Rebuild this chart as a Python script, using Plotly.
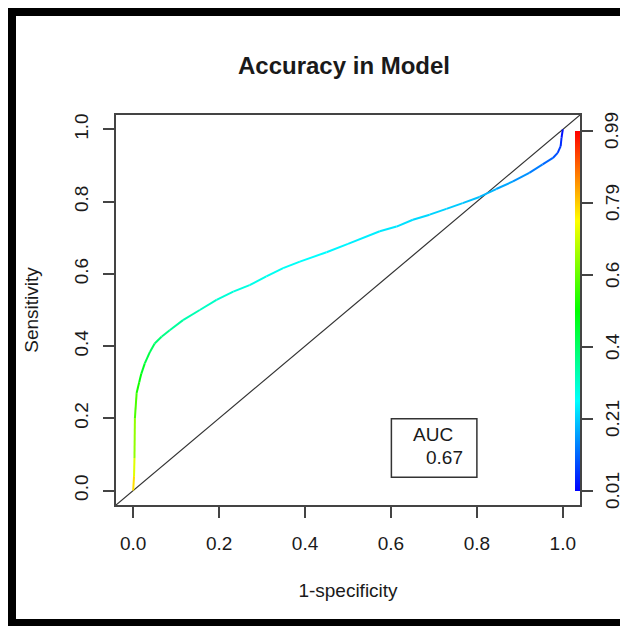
import plotly.graph_objects as go
from plotly.colors import sample_colorscale

# ---------------- data ----------------
fpr = [0.000, 0.002, 0.003, 0.004, 0.008, 0.014, 0.019, 0.027, 0.039, 0.050,
       0.066, 0.085, 0.116, 0.155, 0.194, 0.233, 0.271, 0.310, 0.349, 0.388,
       0.450, 0.500, 0.574, 0.613, 0.651, 0.690, 0.729, 0.767, 0.806, 0.845,
       0.884, 0.922, 0.953, 0.977, 0.988, 0.995, 0.997, 1.000]
tpr = [0.000, 0.040, 0.090, 0.200, 0.270, 0.300, 0.324, 0.352, 0.384, 0.407,
       0.426, 0.444, 0.472, 0.500, 0.528, 0.551, 0.569, 0.593, 0.616, 0.634,
       0.660, 0.683, 0.718, 0.731, 0.750, 0.764, 0.780, 0.796, 0.813, 0.835,
       0.856, 0.880, 0.903, 0.921, 0.935, 0.954, 0.977, 1.000]
cutoff = [0.80, 0.75, 0.68, 0.60, 0.54, 0.50, 0.48, 0.45, 0.42, 0.40,
          0.38, 0.36, 0.34, 0.32, 0.30, 0.29, 0.28, 0.27, 0.265, 0.26,
          0.25, 0.245, 0.235, 0.23, 0.22, 0.215, 0.21, 0.20, 0.19, 0.18,
          0.16, 0.14, 0.12, 0.10, 0.08, 0.06, 0.04, 0.01]

x_tickvals = [0.0, 0.2, 0.4, 0.6, 0.8, 1.0]
x_ticktext = ["0.0", "0.2", "0.4", "0.6", "0.8", "1.0"]
y_tickvals = [0.0, 0.2, 0.4, 0.6, 0.8, 1.0]
y_ticktext = ["0.0", "0.2", "0.4", "0.6", "0.8", "1.0"]

cb_min, cb_max = 0.01, 0.99
cb_tickvals = [0.01, 0.206, 0.402, 0.598, 0.794, 0.99]
cb_ticktext = ["0.01", "0.21", "0.4", "0.6", "0.79", "0.99"]

auc_value = 0.67
axis_range = [-0.04, 1.04]

title_text = "Accuracy in Model"
x_title = "1-specificity"
y_title = "Sensitivity"

# ---------------- styling ----------------
FONT = "Liberation Sans, Arial, sans-serif"
TXT = "#1a1a1a"
AX = "#444444"
rainbow = [[0.0, "#0000FF"], [0.25, "#00FFFF"], [0.5, "#00FF00"],
           [0.75, "#FFFF00"], [1.0, "#FF0000"]]

OFF = 8                            # browser body margin
W, H = 628 - OFF, 634 - 2 * OFF    # keep page free of scrollbars
L, T = 116 - OFF, 115 - OFF
R, B = W - (580 - OFF), H - (505 - OFF)
PW, PH = W - L - R, H - T - B

def px_x(p):  # window pixel -> paper x
    return (p - OFF - L) / PW

def px_y(p):  # window pixel -> paper y
    return (H - B - (p - OFF)) / PH

fig = go.Figure()

# diagonal reference line
fig.add_trace(go.Scatter(x=axis_range, y=axis_range, mode="lines",
                         line=dict(color="#333333", width=1.2),
                         showlegend=False, hoverinfo="skip"))

# colorized ROC curve, one segment per pair of points
for i in range(len(fpr) - 1):
    c = (cutoff[i] + cutoff[i + 1]) / 2
    t = (c - cb_min) / (cb_max - cb_min)
    t = min(max(t, 0), 1)
    col = sample_colorscale(rainbow, [t])[0]
    fig.add_trace(go.Scatter(x=fpr[i:i + 2], y=tpr[i:i + 2], mode="lines",
                             line=dict(color=col, width=2),
                             showlegend=False, hoverinfo="skip"))

# colorbar carrier
cb_bottom_px, cb_top_px = 491, 131
cb_len_px = cb_bottom_px - cb_top_px
fig.add_trace(go.Scatter(
    x=[fpr[0]], y=[tpr[0]], mode="markers",
    marker=dict(size=1, opacity=0, color=[cutoff[0]], colorscale=rainbow,
                cmin=cb_min, cmax=cb_max, showscale=True,
                colorbar=dict(
                    thickness=5, thicknessmode="pixels",
                    len=cb_len_px, lenmode="pixels",
                    x=px_x(575), xanchor="left", xref="paper", xpad=0,
                    y=px_y((cb_bottom_px + cb_top_px) / 2), yanchor="middle",
                    yref="paper", ypad=0,
                    outlinewidth=0,
                    tickmode="array", tickvals=cb_tickvals,
                    ticks="outside", ticklen=13, tickwidth=1.5, tickcolor=AX,
                    showticklabels=False)),
    showlegend=False, hoverinfo="skip"))

annotations = []
# colorbar tick labels (rotated)
for v, s in zip(cb_tickvals, cb_ticktext):
    frac = (v - cb_min) / (cb_max - cb_min)
    ypx = cb_bottom_px - frac * cb_len_px
    annotations.append(dict(x=px_x(612), y=px_y(ypx), xref="paper", yref="paper",
                            text=s, showarrow=False, textangle=-90,
                            xanchor="center", yanchor="middle",
                            font=dict(family=FONT, size=19, color=TXT)))

# AUC box text
annotations.append(dict(x=0.698, y=0.154, xref="x", yref="y", text="AUC",
                        showarrow=False, xanchor="center", yanchor="middle",
                        font=dict(family=FONT, size=19, color=TXT)))
annotations.append(dict(x=0.725, y=0.0925, xref="x", yref="y",
                        text=f"{auc_value:.2f}",
                        showarrow=False, xanchor="center", yanchor="middle",
                        font=dict(family=FONT, size=19, color=TXT)))

frame = dict(color="black", width=8)
shapes = [
    # AUC legend box
    dict(type="rect", xref="x", yref="y", x0=0.601, x1=0.800, y0=0.037, y1=0.199,
         line=dict(color="#333333", width=1.5), fillcolor="rgba(0,0,0,0)"),
    # outer black frame: left, top, bottom edges
    dict(type="line", xref="paper", yref="paper", x0=px_x(12), x1=px_x(12),
         y0=px_y(626), y1=px_y(8), line=frame, layer="above"),
    dict(type="line", xref="paper", yref="paper", x0=px_x(8), x1=px_x(640),
         y0=px_y(12), y1=px_y(12), line=frame, layer="above"),
    dict(type="line", xref="paper", yref="paper", x0=px_x(8), x1=px_x(640),
         y0=px_y(622.5), y1=px_y(622.5), line=dict(color="black", width=7),
         layer="above"),
]

fig.update_layout(
    width=W, height=H,
    margin=dict(l=L, r=R, t=T, b=B, autoexpand=False),
    paper_bgcolor="white", plot_bgcolor="white",
    font=dict(family=FONT, color=TXT, size=19),
    title=dict(text=f"<b>{title_text}</b>", x=px_x(344), xref="paper",
               xanchor="center", y=1 - (66 - OFF) / H, yref="container",
               yanchor="middle",
               font=dict(family=FONT, size=24, color=TXT)),
    xaxis=dict(range=axis_range, tickmode="array", tickvals=x_tickvals,
               ticktext=x_ticktext, ticks="outside", ticklen=11, tickwidth=1.5,
               tickcolor=AX, showline=True, mirror=True, linecolor=AX,
               linewidth=1.5, showgrid=False, zeroline=False,
               tickfont=dict(family=FONT, size=19, color=TXT),
               ticklabelstandoff=9,
               title=dict(text=x_title, standoff=31,
                          font=dict(family=FONT, size=19, color=TXT))),
    yaxis=dict(range=axis_range, tickmode="array", tickvals=y_tickvals,
               ticktext=y_ticktext, ticks="outside", ticklen=11, tickwidth=1.5,
               tickcolor=AX, showline=True, mirror=True, linecolor=AX,
               linewidth=1.5, showgrid=False, zeroline=False, tickangle=-90,
               tickfont=dict(family=FONT, size=19, color=TXT),
               ticklabelstandoff=8,
               title=dict(text=y_title, standoff=27,
                          font=dict(family=FONT, size=19, color=TXT))),
    annotations=annotations,
    shapes=shapes,
)

fig.write_html("out.html")
